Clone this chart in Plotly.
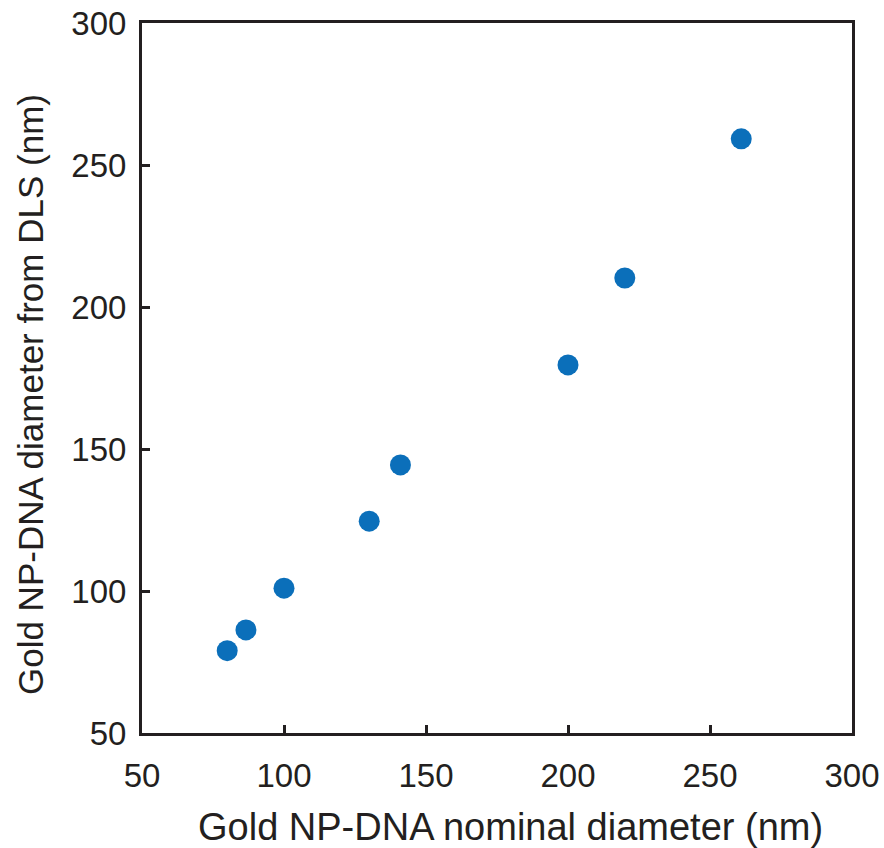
import plotly.graph_objects as go

# Gold NP-DNA conjugates: nominal diameter vs. DLS-measured hydrodynamic diameter (nm)
nominal_nm = [80, 86.6, 100, 130, 141, 200, 220, 261]
dls_nm = [79, 86.3, 101, 124.6, 144.4, 179.6, 210.2, 259.2]

tick_vals = [50, 100, 150, 200, 250, 300]

x_title = "Gold NP-DNA nominal diameter (nm)"
y_title = "Gold NP-DNA diameter from DLS (nm)"

ink = "#231f20"
font_family = "Liberation Sans, Arial, Helvetica, sans-serif"

fig = go.Figure(
    go.Scatter(
        x=nominal_nm,
        y=dls_nm,
        mode="markers",
        marker=dict(size=21, color="#0b6fba", line=dict(width=0)),
        showlegend=False,
    )
)

axis_common = dict(
    range=[50, 300],
    tickvals=tick_vals,
    ticks="inside",
    ticklen=8,
    tickwidth=3,
    tickcolor=ink,
    showline=True,
    linecolor=ink,
    linewidth=3,
    mirror=True,
    showgrid=False,
    zeroline=False,
    automargin=False,
    tickfont=dict(family=font_family, size=33, color=ink),
)

fig.update_xaxes(**axis_common, ticklabelstandoff=11)
fig.update_yaxes(**axis_common, ticklabelstandoff=6)

# Axis titles placed as annotations, slightly off-centre from the frame
fig.add_annotation(
    text=x_title,
    xref="paper", yref="paper",
    x=0.5197, y=0,
    xanchor="center", yanchor="middle",
    yshift=-94,
    showarrow=False,
    font=dict(family=font_family, size=38, color=ink),
)
fig.add_annotation(
    text=y_title,
    xref="paper", yref="paper",
    x=0, y=0.476,
    xanchor="center", yanchor="middle",
    xshift=-112,
    textangle=-90,
    showarrow=False,
    font=dict(family=font_family, size=35, color=ink),
)

fig.update_layout(
    width=884,
    height=848,
    margin=dict(l=142, r=32, t=23, b=115),
    plot_bgcolor="white",
    paper_bgcolor="white",
)

fig.write_html("out.html")
